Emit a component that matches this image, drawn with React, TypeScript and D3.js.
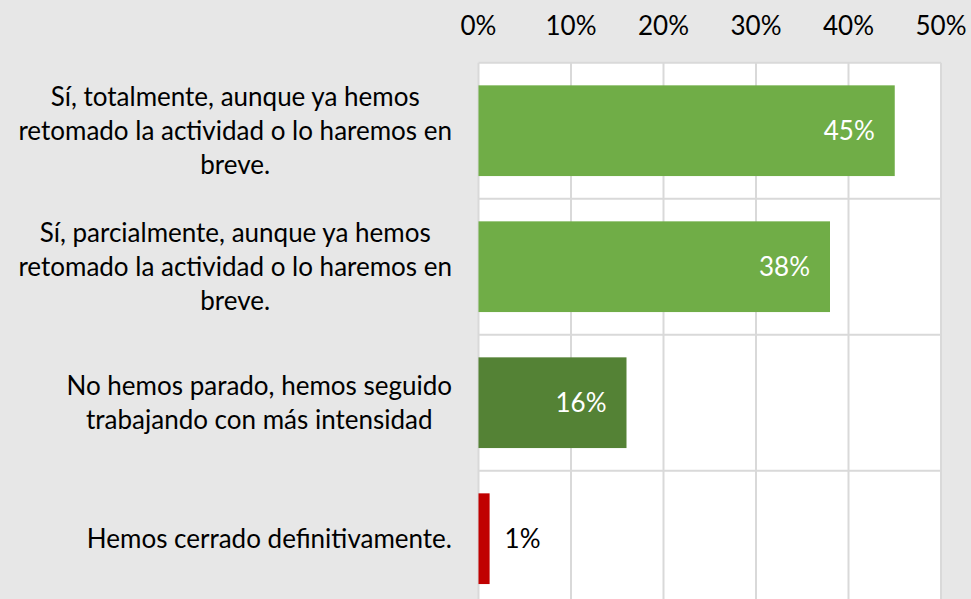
import React, { useEffect, useRef } from 'react';
import * as d3 from 'd3';

const categories = [
    'Sí, totalmente, aunque ya hemos\nretomado la actividad o lo haremos en\nbreve.',
    'Sí, parcialmente, aunque ya hemos\nretomado la actividad o lo haremos en\nbreve.',
    'No hemos parado, hemos seguido\ntrabajando con más intensidad',
    'Hemos cerrado definitivamente.'
];
const values = [0.45, 0.38, 0.16, 0.012];
const barColors = ['#70ad47', '#70ad47', '#548235', '#c00000'];
const ticks = [0, 0.1, 0.2, 0.3, 0.4, 0.5];

const W = 971;
const H = 599;
const FONT = 'Lato, "Open Sans", sans-serif';
const FS = 26;

const App = () => {
    const ref = useRef<SVGSVGElement>(null);

    useEffect(() => {
        document.body.style.margin = '0';
        const svg = d3.select(ref.current);
        svg.selectAll('*').remove();

        const plot = { left: 478.5, right: 941, top: 62.7, bottom: 62.7 + 136 * 4 };

        svg.append('rect').attr('width', W).attr('height', H).attr('fill', '#e7e7e7');

        const x = d3.scaleLinear().domain([0, 0.5]).range([plot.left, plot.right]);
        const y = d3.scaleBand<number>()
            .domain(d3.range(categories.length))
            .range([plot.top, plot.bottom])
            .paddingInner(0.333)
            .paddingOuter(0.1665);

        svg.append('rect')
            .attr('x', plot.left).attr('y', plot.top)
            .attr('width', plot.right - plot.left).attr('height', plot.bottom - plot.top)
            .attr('fill', '#ffffff');

        // vertical gridlines
        svg.append('g').selectAll('line')
            .data(ticks)
            .enter().append('line')
            .attr('x1', d => x(d)).attr('x2', d => x(d))
            .attr('y1', plot.top).attr('y2', plot.bottom)
            .attr('stroke', '#d9d9d9').attr('stroke-width', 2);

        // horizontal lines at category boundaries
        const step = y.step();
        svg.append('g').selectAll('line')
            .data(d3.range(categories.length + 1))
            .enter().append('line')
            .attr('x1', plot.left).attr('x2', plot.right)
            .attr('y1', i => plot.top + i * step).attr('y2', i => plot.top + i * step)
            .attr('stroke', '#d9d9d9').attr('stroke-width', 2);

        // tick labels on top
        svg.append('g').selectAll('text')
            .data(ticks)
            .enter().append('text')
            .attr('x', d => x(d)).attr('y', 35)
            .attr('text-anchor', 'middle')
            .attr('font-family', FONT).attr('font-size', FS)
            .attr('fill', '#000')
            .text(d3.format('.0%'));

        // bars
        svg.append('g').selectAll('rect')
            .data(values)
            .enter().append('rect')
            .attr('x', x(0))
            .attr('y', (d, i) => y(i)!)
            .attr('width', d => x(d) - x(0))
            .attr('height', y.bandwidth())
            .attr('fill', (d, i) => barColors[i]);

        // data labels
        const fmt = d3.format('.0%');
        svg.append('g').selectAll('text')
            .data(values)
            .enter().append('text')
            .attr('x', d => (d > 0.05 ? x(d) - 20 : x(d) + 15))
            .attr('y', (d, i) => y(i)! + y.bandwidth() / 2)
            .attr('dy', '0.35em')
            .attr('text-anchor', d => (d > 0.05 ? 'end' : 'start'))
            .attr('font-family', FONT).attr('font-size', FS)
            .attr('fill', d => (d > 0.05 ? '#ffffff' : '#000000'))
            .text(d => fmt(d));

        // category labels, centered block with right edge near the axis
        const lineH = 34;
        const labelRight = 452;
        categories.forEach((c, i) => {
            const lines = c.split('\n');
            const g = svg.append('g');
            const texts = lines.map((l, j) => g.append('text')
                .attr('y', y(i)! + y.bandwidth() / 2 + (j - (lines.length - 1) / 2) * lineH)
                .attr('dy', '0.35em')
                .attr('text-anchor', 'middle')
                .attr('font-family', FONT).attr('font-size', FS)
                .attr('fill', '#000')
                .text(l));
            const maxW = d3.max(texts, t => (t.node() as SVGTextElement).getComputedTextLength()) || 0;
            texts.forEach(t => t.attr('x', labelRight - maxW / 2));
        });
    }, []);

    return (
        <div id="chart">
            <svg ref={ref} width={W} height={H} style={{ display: 'block' }} />
        </div>
    );
};

export default App;
